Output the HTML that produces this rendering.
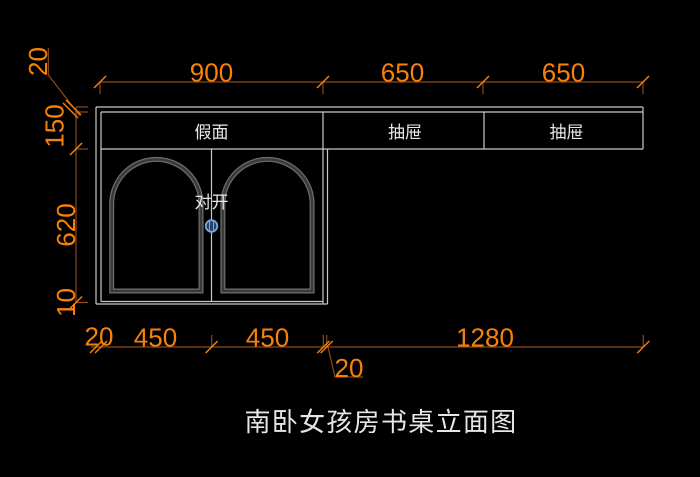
<!DOCTYPE html>
<html><head><meta charset="utf-8"><style>
html,body{margin:0;padding:0;background:#000;}
svg{display:block;}
</style></head><body>
<svg width="700" height="477" viewBox="0 0 700 477" xmlns="http://www.w3.org/2000/svg">
<rect width="700" height="477" fill="#000"/>
<!-- cabinet lines -->
<g stroke="#c8c8c8" stroke-width="1.2" fill="none">
  <line x1="96" y1="107" x2="643" y2="107"/>
  <line x1="101" y1="112" x2="643" y2="112"/>
  <line x1="643" y1="107" x2="643" y2="149"/>
  <line x1="101" y1="149" x2="643" y2="149"/>
  <line x1="484" y1="112" x2="484" y2="149"/>
  <line x1="96" y1="107" x2="96" y2="304"/>
  <line x1="101" y1="112" x2="101" y2="301.5"/>
  <line x1="323" y1="112" x2="323" y2="304"/>
  <line x1="327.5" y1="149" x2="327.5" y2="304"/>
  <line x1="211.5" y1="149" x2="211.5" y2="301.5"/>
  <line x1="101" y1="301.5" x2="323" y2="301.5"/>
  <line x1="96" y1="304" x2="327.5" y2="304"/>
</g>
<!-- arches -->
<g fill="none">
  <path d="M111.7,291 V204 A44.65,44.65 0 0 1 201,204 V291 Z" stroke="#6e6e6e" stroke-width="5"/>
  <path d="M111.7,291 V204 A44.65,44.65 0 0 1 201,204 V291 Z" stroke="#3a3a3a" stroke-width="2.6"/>
  <path d="M222.9,291 V204 A44.6,44.6 0 0 1 312.1,204 V291 Z" stroke="#6e6e6e" stroke-width="5"/>
  <path d="M222.9,291 V204 A44.6,44.6 0 0 1 312.1,204 V291 Z" stroke="#3a3a3a" stroke-width="2.6"/>
</g>
<!-- knob -->
<circle cx="211.5" cy="226" r="5.8" fill="#24426a" stroke="#7aa6dc" stroke-width="1.8"/>
<line x1="209.5" y1="221.5" x2="209.5" y2="230.5" stroke="#7aa6dc" stroke-width="1"/>
<line x1="213.5" y1="221.5" x2="213.5" y2="230.5" stroke="#7aa6dc" stroke-width="1"/>
<!-- labels -->
<g fill="#e8e8e8" font-family="'Liberation Sans','Noto Sans CJK SC',sans-serif" font-size="17" text-anchor="middle">
  <text x="211.5" y="138">假面</text>
  <text x="405" y="138">抽屉</text>
  <text x="566.5" y="138">抽屉</text>
  <text x="211.5" y="208">对开</text>
</g>
<!-- dimension lines -->
<g stroke="#8a4a1a" stroke-width="1.2" fill="none">
  <line x1="100" y1="82" x2="643" y2="82"/>
  <line x1="100" y1="82" x2="100" y2="94"/>
  <line x1="323" y1="82" x2="323" y2="94"/>
  <line x1="483" y1="82" x2="483" y2="94"/>
  <line x1="643" y1="82" x2="643" y2="94"/>
  <line x1="76" y1="107" x2="76" y2="303"/>
  <line x1="76" y1="112" x2="88" y2="112"/>
  <line x1="76" y1="107" x2="88" y2="107"/>
  <line x1="76" y1="149" x2="88" y2="149"/>
  <line x1="76" y1="302.5" x2="88" y2="302.5"/>
  <line x1="48.3" y1="48" x2="48.3" y2="75"/>
  <line x1="48.3" y1="75" x2="80" y2="116"/>
  <line x1="91" y1="347" x2="643" y2="347"/>
  <line x1="211.7" y1="335" x2="211.7" y2="347"/>
  <line x1="323.3" y1="335" x2="323.3" y2="347"/>
  <line x1="326.7" y1="335" x2="326.7" y2="347"/>
  <line x1="643.3" y1="335" x2="643.3" y2="347"/>
  <polyline points="328,347 335,377 363,377"/>
</g>
<!-- ticks -->
<g stroke="#f08010" stroke-width="1.5" fill="none">
  <line x1="94" y1="88" x2="106" y2="76"/>
  <line x1="317" y1="88" x2="329" y2="76"/>
  <line x1="477" y1="88" x2="489" y2="76"/>
  <line x1="637" y1="88" x2="649" y2="76"/>
  <line x1="70" y1="155" x2="82" y2="143"/>
  <line x1="70" y1="308.5" x2="82" y2="296.5"/>
  <line x1="63" y1="103" x2="78" y2="118"/>
  <line x1="66" y1="100" x2="81" y2="115"/>
  <line x1="90" y1="353" x2="102" y2="341"/>
  <line x1="95" y1="353" x2="107" y2="341"/>
  <line x1="205.7" y1="353" x2="217.7" y2="341"/>
  <line x1="317.3" y1="353" x2="329.3" y2="341"/>
  <line x1="320.7" y1="353" x2="332.7" y2="341"/>
  <line x1="637.3" y1="353" x2="649.3" y2="341"/>
</g>
<!-- dimension text -->
<g fill="#f7820a" font-family="'Liberation Sans',sans-serif" font-size="26" text-anchor="middle">
  <text x="211.5" y="81.5">900</text>
  <text x="402.5" y="81.5">650</text>
  <text x="563.5" y="81.5">650</text>
  <text transform="translate(47,61.5) rotate(-90)">20</text>
  <text transform="translate(63.3,126) rotate(-90)">150</text>
  <text transform="translate(75,225) rotate(-90)">620</text>
  <text transform="translate(75,302.5) rotate(-90)">10</text>
  <text x="99" y="345.5">20</text>
  <text x="155.5" y="346.5">450</text>
  <text x="267.5" y="346.5">450</text>
  <text x="485" y="346.5">1280</text>
  <text x="349" y="377">20</text>
</g>
<!-- title -->
<text x="381" y="431" fill="#e6e6e6" font-family="'Liberation Sans','Noto Sans CJK SC',sans-serif" font-size="26" text-anchor="middle" letter-spacing="1.3">南卧女孩房书桌立面图</text>
</svg>
</body></html>
